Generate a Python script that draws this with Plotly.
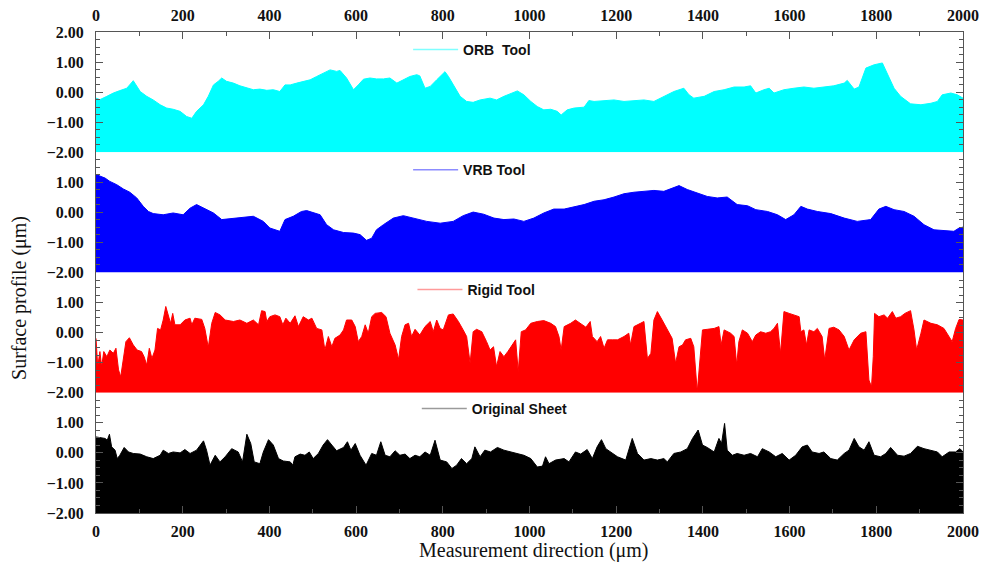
import plotly.graph_objects as go
from plotly.subplots import make_subplots

# ---------------- data ----------------
orb_x = [0, 9, 25, 40, 55, 71, 86, 102, 117, 132, 148, 163, 178, 194, 209, 221, 232, 248, 259, 271,
         282, 290, 301, 317, 332, 348, 363, 378, 394, 409, 424, 436, 448, 463, 478, 494, 509, 524, 540, 555,
         563, 578, 594, 605, 617, 632, 647, 663, 678, 694, 709, 724, 740, 747, 759, 771, 786, 794, 805, 813,
         824, 840, 855, 870, 886, 909, 924, 941, 972, 987, 1003, 1018, 1033, 1049, 1064, 1073, 1087, 1103, 1126, 1137,
         1149, 1172, 1195, 1218, 1241, 1264, 1287, 1310, 1333, 1356, 1368, 1379, 1403, 1426, 1449, 1472, 1495, 1510, 1522, 1541,
         1553, 1564, 1587, 1610, 1633, 1656, 1679, 1702, 1726, 1733, 1749, 1760, 1776, 1795, 1814, 1826, 1841, 1856, 1879, 1903,
         1926, 1941, 1952, 1972, 1987, 2000]
orb_y = [-0.20, -0.25, -0.14, -0.03, 0.05, 0.13, 0.38, 0.02, -0.14, -0.26, -0.42, -0.53, -0.57, -0.64, -0.81, -0.87, -0.64, -0.42, -0.14, 0.24,
         0.36, 0.47, 0.36, 0.30, 0.21, 0.13, 0.08, 0.10, 0.06, 0.08, 0.02, 0.24, 0.24, 0.30, 0.36, 0.41, 0.52, 0.63, 0.74, 0.69,
         0.72, 0.47, 0.08, 0.24, 0.43, 0.47, 0.44, 0.44, 0.47, 0.30, 0.41, 0.52, 0.58, 0.54, 0.13, 0.19, 0.41, 0.52, 0.68, 0.52,
         0.24, -0.14, -0.31, -0.34, -0.26, -0.20, -0.26, -0.14, 0.04, -0.09, -0.31, -0.48, -0.59, -0.57, -0.64, -0.76, -0.59, -0.53, -0.50, -0.28,
         -0.31, -0.28, -0.26, -0.31, -0.28, -0.26, -0.31, -0.14, 0.02, 0.13, -0.09, -0.20, -0.14, 0.02, 0.08, 0.17, 0.17, 0.21, -0.03, 0.08,
         0.13, -0.03, 0.08, 0.13, 0.17, 0.13, 0.17, 0.21, 0.30, 0.39, 0.10, 0.17, 0.80, 0.91, 0.97, 0.58, 0.13, -0.14, -0.39, -0.42,
         -0.37, -0.31, -0.09, -0.03, -0.09, -0.20]

vrb_x = [0, 9, 21, 32, 48, 63, 78, 94, 109, 121, 132, 155, 178, 201, 217, 232, 248, 271, 290, 317,
         340, 363, 386, 401, 424, 436, 455, 474, 486, 501, 517, 532, 548, 571, 594, 609, 624, 636, 647, 663,
         686, 709, 732, 763, 794, 824, 847, 870, 894, 918, 941, 964, 987, 1010, 1033, 1056, 1080, 1103, 1126, 1149,
         1172, 1195, 1218, 1241, 1264, 1287, 1310, 1329, 1345, 1364, 1387, 1410, 1433, 1456, 1479, 1503, 1522, 1549, 1572, 1591,
         1610, 1626, 1641, 1664, 1695, 1726, 1756, 1787, 1806, 1822, 1841, 1864, 1887, 1910, 1933, 1956, 1979, 1991, 2000]
vrb_y = [1.26, 1.20, 1.14, 1.03, 0.92, 0.78, 0.67, 0.48, 0.20, 0.03, -0.04, -0.08, -0.02, -0.08, 0.14, 0.26, 0.14, -0.02, -0.24, -0.19,
         -0.17, -0.13, -0.30, -0.52, -0.63, -0.24, -0.13, 0.03, 0.06, -0.02, -0.08, -0.41, -0.58, -0.67, -0.69, -0.74, -0.93, -0.86, -0.58, -0.41,
         -0.19, -0.11, -0.19, -0.30, -0.36, -0.30, -0.11, 0.01, -0.06, -0.19, -0.24, -0.22, -0.30, -0.19, -0.02, 0.11, 0.11, 0.18, 0.26, 0.37,
         0.42, 0.51, 0.62, 0.67, 0.70, 0.73, 0.70, 0.81, 0.89, 0.76, 0.64, 0.53, 0.48, 0.51, 0.26, 0.22, 0.09, 0.03, -0.08, -0.24,
         -0.08, 0.20, 0.11, 0.03, -0.04, -0.19, -0.30, -0.24, 0.11, 0.20, 0.09, 0.03, -0.13, -0.41, -0.58, -0.61, -0.63, -0.52, -0.49]

rigid_x = [0, 4, 9, 13, 18, 25, 32, 40, 46, 52, 57, 63, 69, 77, 86, 95, 105, 111, 117, 123,
           129, 136, 142, 149, 155, 161, 167, 172, 177, 182, 194, 205, 217, 221, 228, 244, 251, 259, 267, 275,
           286, 298, 317, 332, 348, 363, 375, 382, 390, 394, 401, 413, 424, 431, 438, 448, 459, 467, 478, 490,
           498, 509, 521, 528, 536, 544, 551, 563, 571, 578, 590, 598, 605, 613, 621, 628, 636, 644, 659, 669,
           678, 690, 698, 705, 713, 721, 728, 736, 747, 759, 771, 778, 786, 794, 801, 813, 824, 836, 847, 855,
           863, 870, 878, 890, 901, 909, 917, 924, 932, 941, 950, 960, 968, 974, 981, 991, 1003, 1018, 1033, 1049,
           1060, 1068, 1073, 1080, 1095, 1106, 1118, 1130, 1140, 1145, 1156, 1164, 1172, 1180, 1191, 1203, 1218, 1229, 1233, 1241,
           1256, 1264, 1272, 1280, 1287, 1295, 1306, 1318, 1329, 1337, 1345, 1353, 1360, 1372, 1379, 1387, 1393, 1399, 1410, 1426,
           1437, 1442, 1449, 1464, 1472, 1478, 1483, 1491, 1503, 1514, 1522, 1533, 1545, 1556, 1564, 1572, 1579, 1587, 1599, 1610,
           1622, 1626, 1633, 1639, 1645, 1656, 1664, 1675, 1681, 1691, 1702, 1714, 1726, 1737, 1749, 1764, 1776, 1783, 1789, 1793,
           1796, 1806, 1818, 1826, 1837, 1845, 1856, 1866, 1879, 1887, 1893, 1903, 1910, 1926, 1941, 1956, 1968, 1975, 1983, 1991,
           2000]
rigid_y = [-0.19, -1.13, -0.63, -1.13, -0.63, -0.80, -0.58, -0.69, -0.52, -1.24, -1.47, -0.80, -0.30, -0.17, -0.41, -0.58, -0.63, -0.80, -1.08, -0.52,
           -0.86, -0.58, 0.14, 0.09, 0.42, 0.87, 0.59, 0.31, 0.64, 0.26, 0.26, 0.42, 0.48, 0.26, 0.48, 0.44, 0.14, -0.49, 0.31, 0.67,
           0.59, 0.42, 0.37, 0.42, 0.31, 0.42, 0.26, 0.73, 0.70, 0.37, 0.53, 0.59, 0.53, 0.26, 0.48, 0.31, 0.56, 0.20, 0.53, 0.42,
           0.48, 0.14, 0.09, -0.58, -0.13, -0.47, -0.19, -0.08, 0.09, 0.42, 0.42, 0.20, -0.30, -0.13, 0.26, -0.02, 0.53, 0.64, 0.67, 0.53,
           -0.02, -0.41, -0.89, -0.13, 0.26, 0.31, -0.13, 0.11, -0.08, 0.20, 0.37, 0.03, 0.42, 0.14, 0.09, 0.59, 0.62, 0.37, 0.09, -0.13,
           -1.02, 0.03, 0.11, 0.03, -0.30, -0.58, -0.47, -1.13, -0.63, -0.80, -0.63, -0.41, -0.24, -1.30, 0.03, 0.09, 0.31, 0.37, 0.40, 0.31,
           0.20, -0.13, -0.58, 0.20, 0.31, 0.42, 0.31, 0.18, 0.37, -0.13, -0.30, -0.13, -0.52, -0.24, -0.24, -0.24, -0.13, -0.02, -0.41, 0.20,
           0.31, 0.37, -0.86, -0.69, 0.42, 0.70, 0.42, 0.09, -0.19, -1.02, -0.47, -0.41, -0.24, -0.19, -0.47, -1.97, -0.80, 0.09, 0.11, 0.14,
           0.20, -0.41, 0.09, -0.02, -0.13, -1.08, -0.30, 0.09, -0.02, -0.30, -0.08, 0.03, -0.02, 0.03, 0.14, 0.31, -0.69, 0.70, 0.64, 0.59,
           0.53, 0.03, 0.09, -0.41, 0.09, 0.03, 0.14, -0.13, -0.91, 0.14, 0.18, 0.09, -0.13, -0.58, -0.24, -0.02, 0.03, -1.58, -1.80, -0.80,
           0.64, 0.53, 0.59, 0.48, 0.70, 0.48, 0.53, 0.64, 0.73, 0.09, -0.58, -0.02, 0.42, 0.31, 0.26, 0.14, -0.13, -0.30, 0.14, 0.44,
           0.42]

orig_x = [0, 9, 21, 26, 31, 36, 44, 49, 55, 65, 75, 86, 102, 117, 132, 148, 155, 167, 178, 194,
          205, 217, 232, 248, 255, 263, 275, 286, 298, 313, 328, 338, 348, 357, 365, 378, 386, 398, 409, 421,
          432, 448, 454, 459, 471, 482, 492, 501, 513, 524, 534, 544, 555, 571, 580, 588, 598, 609, 623, 636,
          647, 657, 667, 678, 690, 701, 713, 724, 736, 747, 759, 771, 782, 794, 809, 821, 832, 843, 855, 867,
          874, 886, 897, 910, 926, 941, 957, 972, 987, 1003, 1018, 1030, 1037, 1045, 1060, 1080, 1091, 1106, 1118, 1133,
          1145, 1156, 1166, 1176, 1187, 1203, 1222, 1237, 1249, 1264, 1280, 1295, 1310, 1318, 1333, 1349, 1364, 1376, 1389, 1399,
          1410, 1426, 1437, 1443, 1450, 1456, 1468, 1479, 1495, 1510, 1526, 1537, 1553, 1568, 1583, 1599, 1614, 1629, 1641, 1652,
          1668, 1679, 1695, 1710, 1726, 1737, 1749, 1760, 1772, 1783, 1795, 1810, 1822, 1833, 1849, 1864, 1879, 1895, 1910, 1926,
          1941, 1952, 1968, 1983, 1993, 2000]
orig_y = [0.53, 0.50, 0.48, 0.42, 0.62, 0.20, 0.09, -0.19, -0.08, 0.18, 0.03, -0.02, -0.04, -0.13, -0.19, -0.08, 0.09, -0.02, 0.03, 0.00,
          0.11, -0.02, 0.09, 0.40, 0.09, -0.41, -0.08, -0.30, -0.13, 0.14, 0.03, -0.30, 0.62, 0.31, -0.30, -0.36, 0.03, 0.44, 0.26, -0.19,
          -0.27, -0.30, -0.41, -0.13, -0.04, -0.08, 0.03, -0.19, -0.02, 0.26, 0.44, 0.26, 0.07, 0.18, 0.37, 0.09, 0.31, -0.08, -0.41, -0.02,
          -0.08, 0.37, -0.08, -0.13, 0.07, -0.08, -0.04, -0.19, -0.08, -0.13, 0.03, -0.08, 0.42, -0.24, -0.30, -0.52, -0.41, -0.19, -0.36, -0.19,
          0.20, -0.13, 0.09, 0.03, 0.18, 0.09, 0.03, -0.04, -0.08, -0.19, -0.47, -0.44, -0.13, -0.36, -0.24, -0.19, -0.30, 0.03, -0.04, 0.11,
          -0.19, 0.20, 0.44, 0.14, 0.03, -0.13, -0.24, 0.48, -0.02, -0.24, -0.19, -0.24, -0.19, -0.30, -0.02, 0.03, 0.14, 0.48, 0.76, 0.26,
          0.18, 0.03, 0.48, 0.31, 0.98, 0.09, -0.08, -0.02, -0.08, -0.02, -0.13, 0.14, 0.03, -0.13, -0.02, -0.24, -0.08, 0.20, 0.26, 0.03,
          -0.02, 0.03, -0.19, -0.24, -0.02, 0.09, 0.48, 0.20, 0.09, 0.37, -0.08, -0.13, -0.02, 0.18, -0.08, -0.11, -0.02, 0.22, 0.14, 0.07,
          0.03, -0.13, 0.03, 0.03, 0.14, 0.03]

series_names = ["ORB\u00a0 Tool", "VRB Tool", "Rigid Tool", "Original Sheet"]
series_x = [orb_x, vrb_x, rigid_x, orig_x]
series_y = [orb_y, vrb_y, rigid_y, orig_y]
fill_colors = ["#00FFFF", "#0000FF", "#FF0000", "#000000"]
legend_colors = ["#7FFFFF", "#8C8CFF", "#FF9A9A", "#9A9A9A"]

x_range = [0, 2000]
y_range = [-2, 2]
x_ticks = [0, 200, 400, 600, 800, 1000, 1200, 1400, 1600, 1800, 2000]
y_ticks_top = [-2, -1, 0, 1, 2]
y_ticks_other = [-2, -1, 0, 1]

# ---------------- figure ----------------
fig = make_subplots(rows=4, cols=1, vertical_spacing=0)

legend_ids = ["legend", "legend2", "legend3", "legend4"]
for i in range(4):
    r = i + 1
    fig.add_trace(go.Scatter(x=x_range, y=[y_range[0], y_range[0]], mode="lines",
                             line=dict(width=0, color=fill_colors[i]), showlegend=False,
                             hoverinfo="skip"), row=r, col=1)
    fig.add_trace(go.Scatter(x=series_x[i], y=series_y[i], mode="lines", fill="tonexty",
                             fillcolor=fill_colors[i], line=dict(width=1, color=fill_colors[i]),
                             showlegend=False, name=series_names[i]), row=r, col=1)
    fig.add_trace(go.Scatter(x=[None], y=[None], mode="lines", name=series_names[i],
                             line=dict(width=1.5, color=legend_colors[i]),
                             legend=legend_ids[i], showlegend=True), row=r, col=1)

tick_font = dict(family="Liberation Serif", size=16, color="#111111", weight="bold")
axis_col = "#555555"

for i in range(4):
    r = i + 1
    fig.update_yaxes(range=y_range, tickvals=(y_ticks_top if i == 0 else y_ticks_other),
                     tickformat=".2f", ticks="inside", ticklen=7, tickwidth=1, tickcolor=axis_col,
                     minor=dict(dtick=0.25, ticks="inside", ticklen=4, tickcolor=axis_col),
                     showline=True, linecolor=axis_col, linewidth=1, mirror="ticks",
                     showgrid=False, zeroline=False, tickfont=tick_font, automargin=False,
                     ticklabelstandoff=8, row=r, col=1)
    xa = dict(range=x_range, tickvals=x_ticks, showgrid=False, zeroline=False, automargin=False,
              tickfont=tick_font, ticks="inside", ticklen=7, tickcolor=axis_col,
              ticklabelstandoff=4,
              minor=dict(dtick=100, ticks="inside", ticklen=4, tickcolor=axis_col))
    if i == 0:
        xa.update(side="top", showticklabels=True, showline=True, linecolor=axis_col, linewidth=1)
    elif i == 3:
        xa.update(side="bottom", showticklabels=True, showline=True, linecolor=axis_col, linewidth=1)
    else:
        xa.update(showticklabels=False, showline=False, ticks="", minor=dict(ticks=""))
    fig.update_xaxes(row=r, col=1, **xa)

legend_font = dict(family="Liberation Sans", size=14, color="#111111", weight="bold")
legend_pos = [(0.36, 0.9626), (0.36, 0.713), (0.365, 0.4636), (0.37, 0.2162)]
for i, lid in enumerate(legend_ids):
    fig.update_layout({lid: dict(x=legend_pos[i][0], y=legend_pos[i][1], xanchor="left",
                                 yanchor="middle", bgcolor="rgba(0,0,0,0)", font=legend_font,
                                 itemwidth=45)})

fig.add_annotation(text="Surface profile (\u03bcm)", xref="paper", yref="paper",
                   x=-0.0877, y=0.447, textangle=-90, showarrow=False,
                   xanchor="center", yanchor="middle",
                   font=dict(family="Liberation Serif", size=20, color="#111111"))
fig.add_annotation(text="Measurement direction (\u03bcm)", xref="paper", yref="paper",
                   x=0.505, y=-0.079, showarrow=False, xanchor="center", yanchor="middle",
                   font=dict(family="Liberation Serif", size=20, color="#111111"))

fig.update_layout(width=984, height=575, margin=dict(l=96, r=21, t=32, b=62),
                  plot_bgcolor="white", paper_bgcolor="white")

fig.write_html("out.html", config={"displayModeBar": False},
               post_script="document.body.style.margin='0';")
